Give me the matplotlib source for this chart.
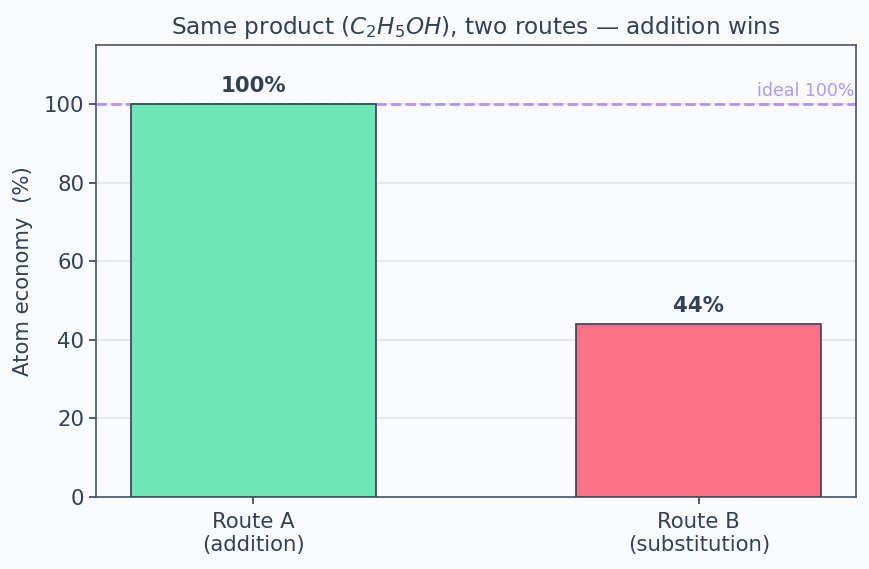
import matplotlib.pyplot as plt

# data
routes = ["Route A\n(addition)", "Route B\n(substitution)"]
economy = [100, 44]
bar_colors = ["#6ee7b7", "#fb7185"]

txt = "#334155"

fig, ax = plt.subplots(figsize=(8.69, 5.69), dpi=100)
fig.patch.set_facecolor("#f9fafe")
ax.set_facecolor("#f9fafe")

bars = ax.bar(range(len(routes)), economy, width=0.55, color=bar_colors,
              edgecolor="#334155", linewidth=1.2, zorder=3)

for b, v in zip(bars, economy):
    ax.text(b.get_x() + b.get_width() / 2, v + 2, f"{v}%", ha="center", va="bottom",
            fontsize=15.3, fontweight="bold", color=txt, zorder=4)

# ideal reference line
ax.axhline(100, color="#a78bfa", linestyle="--", linewidth=2, alpha=0.9, zorder=2)
ax.text(1.35, 101, "ideal 100%", ha="right", va="bottom", fontsize=12.5,
        color="#a78bfa", alpha=0.9)

ax.set_ylim(0, 115)
ax.set_xticks(range(len(routes)))
ax.set_xticklabels(routes)
ax.set_ylabel("Atom economy  (%)", fontsize=15.3, color=txt, labelpad=8)
ax.set_title("Same product ($C_2H_5OH$), two routes — addition wins",
             fontsize=16.7, color=txt, pad=8)

ax.yaxis.grid(True, color="#e2e8f0", linewidth=1.3, zorder=0)
ax.set_axisbelow(True)
ax.tick_params(colors=txt, labelsize=15.3, width=1.2, length=5)
ax.tick_params(axis="x", pad=6)
for s in ax.spines.values():
    s.set_color("#475569")
    s.set_linewidth(1.2)

fig.subplots_adjust(left=0.1105, right=0.985, top=0.921, bottom=0.1265)
plt.savefig("out.png", facecolor=fig.get_facecolor())
